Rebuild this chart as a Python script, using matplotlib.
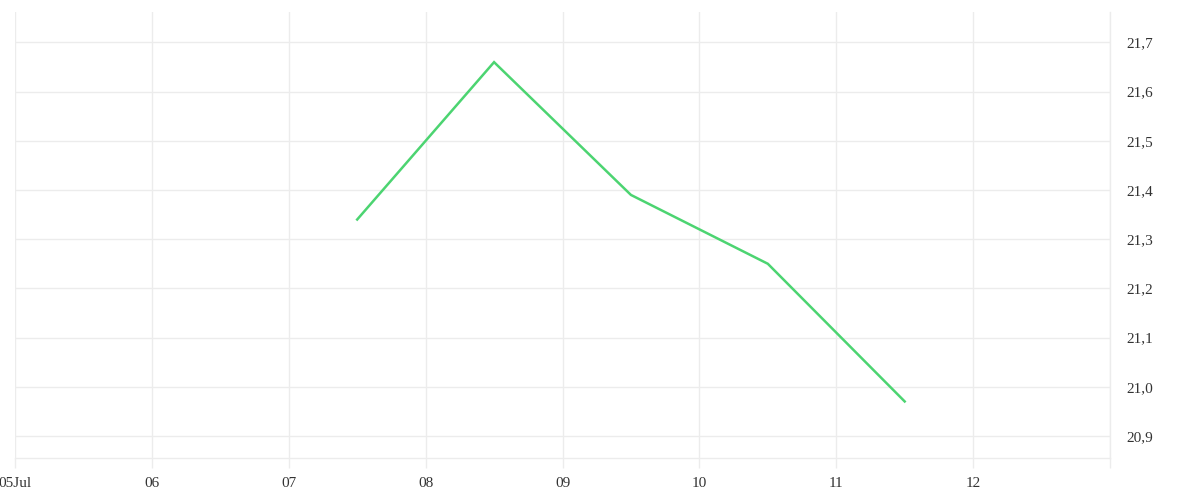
import matplotlib
matplotlib.use("Agg")
import matplotlib.pyplot as plt
import matplotlib.dates as mdates
import pandas as pd

# Data
dates = ["2024-07-07 12:00", "2024-07-08 12:00", "2024-07-09 12:00",
         "2024-07-10 12:00", "2024-07-11 12:00"]
values = [21.34, 21.66, 21.39, 21.25, 20.97]
tick_dates = ["2024-07-05", "2024-07-06", "2024-07-07", "2024-07-08", "2024-07-09",
              "2024-07-10", "2024-07-11", "2024-07-12", "2024-07-13"]
tick_labels = ["05Jul", "06", "07", "08", "09", "10", "11", "12", ""]
y_ticks = [20.9, 21.0, 21.1, 21.2, 21.3, 21.4, 21.5, 21.6, 21.7]

plt.rcParams['font.family'] = ['Liberation Serif', 'DejaVu Serif']

fig = plt.figure(figsize=(12, 5), dpi=100)
ax = fig.add_axes([15/1200, 42/500, (1110-15)/1200, (458-12)/500])

x = mdates.date2num(pd.to_datetime(dates))
ax.plot(x, values, color="#4cd471", linewidth=1.8, solid_joinstyle="miter")

xt = mdates.date2num(pd.to_datetime(tick_dates))
ax.set_xlim(xt[0], xt[-1])
ax.set_ylim(20.855, 21.762)
ax.set_xticks(xt)
ax.set_xticklabels(tick_labels)
ax.set_yticks(y_ticks)
ax.set_yticklabels([f"{v:.1f}".replace(".", ",") for v in y_ticks])

grid_c = "#ececec"
ax.grid(True, color=grid_c, linewidth=1)
ax.set_axisbelow(True)
for s in ["top", "left"]:
    ax.spines[s].set_visible(False)
for s in ["bottom", "right"]:
    ax.spines[s].set_color(grid_c)
    ax.spines[s].set_linewidth(1)

ax.yaxis.tick_right()
ax.tick_params(axis="y", length=0, pad=11.5, labelsize=11, labelcolor="#333333")
ax.tick_params(axis="x", length=7.5, width=1, color=grid_c, pad=6.5, labelsize=11,
               labelcolor="#333333")

fig.savefig("out.png", dpi=100, facecolor="white")
